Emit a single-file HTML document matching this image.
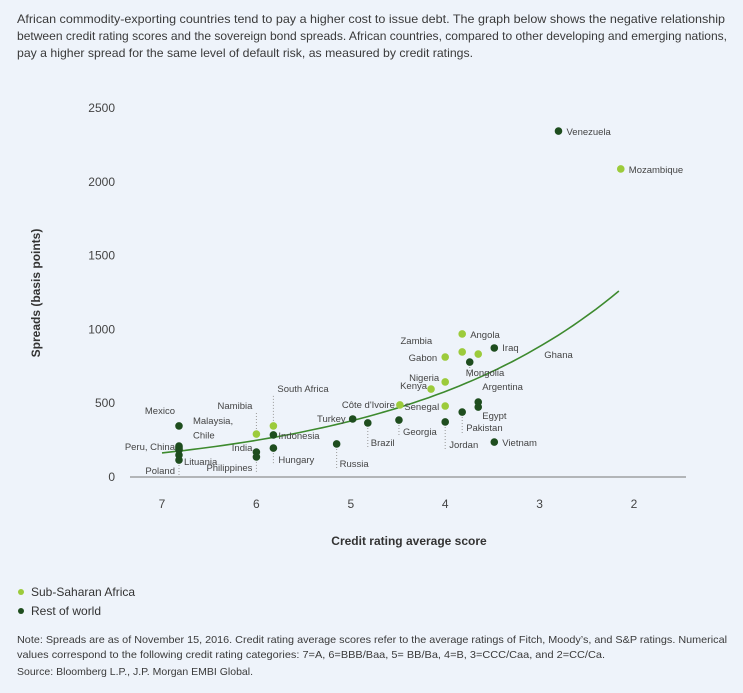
<!DOCTYPE html>
<html><head><meta charset="utf-8"><style>
html,body{margin:0;padding:0;background:#eef3fa;}
svg{display:block;font-family:"Liberation Sans Narrow","Liberation Sans",sans-serif;}
</style></head><body>
<svg id="chart" width="743" height="693" viewBox="0 0 743 693" xmlns="http://www.w3.org/2000/svg">
<rect width="743" height="693" fill="#eef3fa"/>
<g font-size="12" fill="#3a3a3a">
<text x="17" y="23" textLength="708" lengthAdjust="spacingAndGlyphs">African commodity-exporting countries tend to pay a higher cost to issue debt. The graph below shows the negative relationship</text>
<text x="17" y="40" textLength="710" lengthAdjust="spacingAndGlyphs">between credit rating scores and the sovereign bond spreads. African countries, compared to other developing and emerging nations,</text>
<text x="17" y="57" textLength="456" lengthAdjust="spacingAndGlyphs">pay a higher spread for the same level of default risk, as measured by credit ratings.</text>
</g>
<g id="plot"></g>
<text transform="translate(40,293) rotate(-90)" text-anchor="middle" font-size="12" font-weight="bold" fill="#333">Spreads (basis points)</text>
<text x="409" y="545" text-anchor="middle" font-size="12" font-weight="bold" fill="#333">Credit rating average score</text>
<g font-size="12" fill="#333">
<g><circle cx="21" cy="592" r="3" fill="#9ccb3b"/><text x="31" y="596">Sub-Saharan Africa</text></g>
<g><circle cx="21" cy="611" r="3" fill="#1e4d1e"/><text x="31" y="615">Rest of world</text></g>
</g>
<g font-size="10.5" fill="#3a3a3a">
<text x="17" y="643" textLength="710" lengthAdjust="spacingAndGlyphs">Note: Spreads are as of November 15, 2016. Credit rating average scores refer to the average ratings of Fitch, Moody’s, and S&amp;P ratings. Numerical</text>
<text x="17" y="658" textLength="588" lengthAdjust="spacingAndGlyphs">values correspond to the following credit rating categories: 7=A, 6=BBB/Baa, 5= BB/Ba, 4=B, 3=CCC/Caa, and 2=CC/Ca.</text>
<text x="17" y="675" textLength="236" lengthAdjust="spacingAndGlyphs">Source: Bloomberg L.P., J.P. Morgan EMBI Global.</text>
</g>
</svg>
<script>
const countries=["Venezuela","Mozambique","Angola","Zambia","Ghana","Iraq","Gabon","Mongolia","Nigeria","Kenya","Côte d'Ivoire","Senegal","Argentina","Egypt","Pakistan","Jordan","Georgia","Vietnam","Turkey","Brazil","Russia","South Africa","Namibia","Indonesia","Hungary","India","Philippines","Mexico","Malaysia","Chile","Peru","China","Lituania","Poland"];
const scores=[2.8,2.14,3.82,3.82,3.65,3.48,4.0,3.74,4.0,4.15,4.48,4.0,3.65,3.65,3.82,4.0,4.49,3.48,4.98,4.82,5.15,5.82,6.0,5.82,5.82,6.0,6.0,6.82,6.82,6.82,6.82,6.82,6.82,6.82];
const spreads=[2344,2087,969,847,833,874,813,779,644,596,488,481,508,474,440,373,386,237,393,366,224,346,291,285,196,169,136,346,210,200,190,183,149,115];
const regions=["r","s","s","s","s","r","s","r","s","s","s","s","r","r","r","r","r","r","r","r","r","s","s","r","r","r","r","r","r","r","r","r","r","r"];
const yTicks=[0,500,1000,1500,2000,2500];
const xTicks=[7,6,5,4,3,2];
const fitA=163, fitB=0.4226, fitX0=7, fitX1=2.16;
const lab={"Venezuela":[8,4,"start"],"Mozambique":[8,4,"start"],"Angola":[8,4,"start"],"Zambia":[-30,-8,"end"],"Ghana":[66,4,"start"],"Iraq":[8,3,"start"],"Gabon":[-8,4,"end"],"Mongolia":[-4,14,"start"],"Nigeria":[-6,-1,"end"],"Kenya":[-4,0,"end"],"Côte d'Ivoire":[-5,3,"end"],"Senegal":[-6,4,"end"],"Argentina":[4,-12,"start"],"Egypt":[4,12,"start"],"Pakistan":[4,19,"start"],"Jordan":[4,26,"start"],"Georgia":[4,15,"start"],"Vietnam":[8,4,"start"],"Turkey":[-7,3,"end"],"Brazil":[3,23,"start"],"Russia":[3,23,"start"],"South Africa":[4,-34,"start"],"Namibia":[-4,-25,"end"],"Indonesia":[5,4,"start"],"Hungary":[5,15,"start"],"India":[-4,-1,"end"],"Philippines":[-4,14,"end"],"Mexico":[-4,-12,"end"],"Malaysia":[14,-22,"start"],"Chile":[14,-9,"start"],"Peru":[-4,1,"end"],"China":[-4,1,"end"],"Lituania":[5,10,"start"],"Poland":[-4,14,"end"]};
const X=v=>162+(7-v)*94.4, Y=v=>477-v*0.1476;
const plot=document.getElementById('plot'), NS="http://www.w3.org/2000/svg";
function mk(t,a,p){const e=document.createElementNS(NS,t);for(const k in a)e.setAttribute(k,a[k]);(p||plot).appendChild(e);return e;}
yTicks.forEach(t=>{const e=mk('text',{x:115,y:Y(t)+4,'text-anchor':'end','font-size':12,fill:'#444'});e.textContent=t;

});
xTicks.forEach(t=>{const e=mk('text',{x:X(t),y:508,'text-anchor':'middle','font-size':12,fill:'#444'});e.textContent=t;

});
const ax=mk('line',{x1:130,x2:686,y1:Y(0),y2:Y(0),stroke:'#777','stroke-width':1});


let d="";for(let i=0;i<=60;i++){const v=fitX0-(fitX0-fitX1)*i/60;d+=(i?"L":"M")+X(v).toFixed(1)+","+Y(fitA*Math.exp(fitB*(fitX0-v))).toFixed(1);}
const fl=mk('path',{d:d,fill:'none',stroke:'#3d8a2e','stroke-width':1.6});


countries.forEach((c,i)=>{const cx=X(scores[i]),cy=Y(spreads[i]);
const p=mk('circle',{cx:cx,cy:cy,r:3.8,fill:regions[i]==="s"?'#9ccb3b':'#1e4d1e'});


const L=lab[c];if(!L)return;
let txt=c;if(c==="Malaysia")txt="Malaysia,";if(c==="Peru")txt="Peru, China";if(c==="China")return;
const t=mk('text',{x:cx+L[0],y:cy+L[1],'text-anchor':L[2],'font-size':9.5,fill:'#444'});t.textContent=txt;


if(Math.abs(L[1])>12&&c!=="Malaysia"){const ln=mk('line',{x1:cx,x2:cx,y1:cy+(L[1]>0?5:-5),y2:cy+L[1]+2,stroke:'#999','stroke-dasharray':'1,2','stroke-width':1});

}
});
</script>
</body></html>
